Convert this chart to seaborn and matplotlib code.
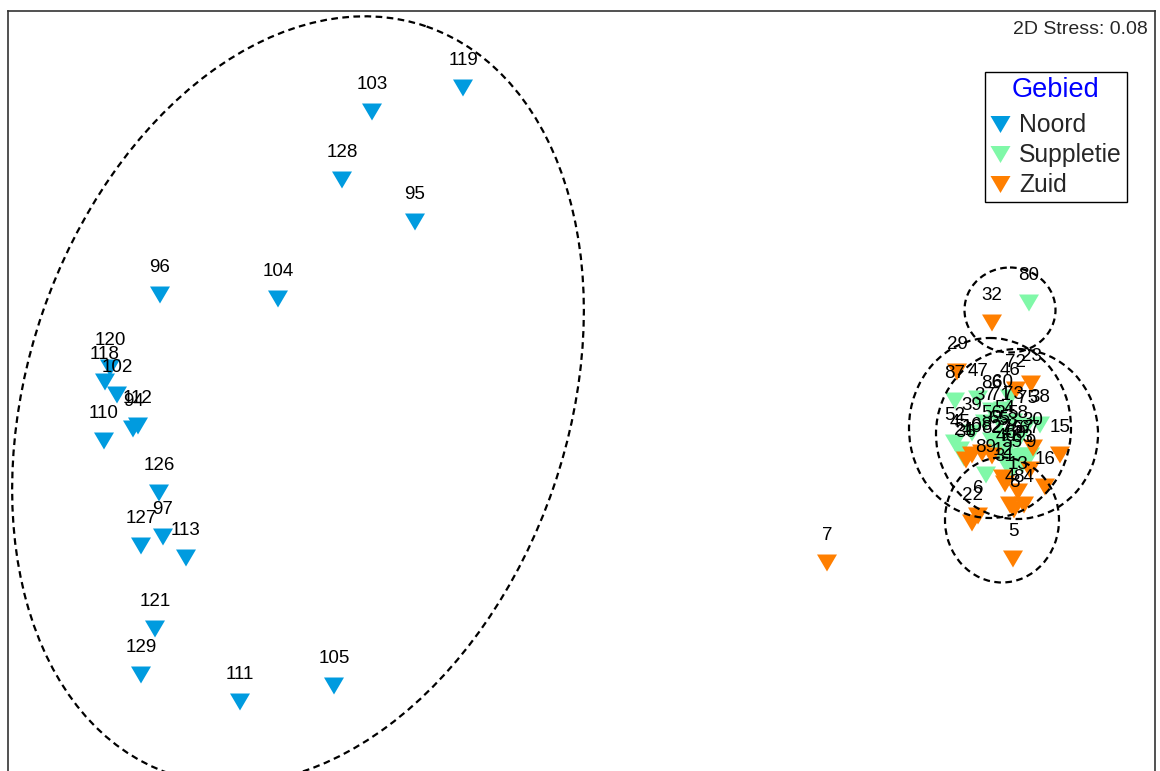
import numpy as np
import pandas as pd
import seaborn as sns
import matplotlib.pyplot as plt
from matplotlib.patches import Ellipse
from matplotlib.lines import Line2D

noord_lbl = ["119", "103", "128", "95", "96", "104", "120", "118", "102", "94", "112",
             "110", "126", "127", "97", "113", "121", "129", "111", "105"]
noord_x = [4.63, 3.72, 3.42, 4.15, 1.60, 2.78, 1.10, 1.05, 1.17, 1.33, 1.38,
           1.04, 1.59, 1.41, 1.63, 1.86, 1.55, 1.41, 2.40, 3.34]
noord_y = [0.88, 1.12, 1.80, 2.22, 2.95, 2.99, 3.68, 3.82, 3.95, 4.29, 4.26,
           4.41, 4.93, 5.46, 5.37, 5.58, 6.29, 6.75, 7.02, 6.86]

suppl_lbl = ["80", "87", "47", "46", "86", "60", "37", "39", "52", "71", "73", "75",
             "38", "54", "56", "65", "58", "53", "45", "21", "27", "26", "57", "67",
             "40", "59", "89", "55", "63"]
suppl_x = [10.29, 9.55, 9.78, 10.10, 9.92, 10.03, 9.85, 9.72, 9.55, 10.00, 10.13, 10.27,
           10.40, 10.05, 9.92, 10.00, 10.18, 10.08, 9.60, 9.64, 10.02, 10.11, 10.23, 10.30,
           10.06, 10.16, 9.86, 10.12, 10.22]
suppl_y = [3.03, 4.01, 3.99, 3.98, 4.11, 4.10, 4.23, 4.33, 4.43, 4.23, 4.22, 4.26,
           4.25, 4.36, 4.41, 4.46, 4.41, 4.48, 4.50, 4.58, 4.55, 4.57, 4.56, 4.56,
           4.64, 4.61, 4.75, 4.70, 4.65]

zuid_lbl = ["32", "29", "72", "23", "10", "68", "82", "30", "15", "31", "13", "16",
            "84", "8", "6", "22", "5", "7", "12", "4", "9", "36"]
zuid_x = [9.92, 9.57, 10.16, 10.31, 9.72, 9.82, 9.92, 10.33, 10.60, 10.05, 10.18, 10.45,
          10.24, 10.14, 9.78, 9.72, 10.13, 8.27, 10.03, 10.10, 10.30, 9.66]
zuid_y = [3.23, 3.72, 3.90, 3.84, 4.55, 4.53, 4.56, 4.48, 4.55, 4.84, 4.92, 4.87,
          5.05, 5.10, 5.16, 5.23, 5.59, 5.63, 4.78, 5.05, 4.70, 4.60]

# ellipsen rond de clusters
ell_cx = [2.98, 10.10, 9.90, 10.17, 10.02]
ell_cy = [4.00, 3.10, 4.28, 4.34, 5.20]
ell_w = [5.40, 0.91, 1.62, 1.62, 1.14]
ell_h = [7.90, 0.85, 1.80, 1.70, 1.25]
ell_ang = [19, 0, 0, 0, 0]

groups = ["Noord", "Suppletie", "Zuid"]
colors = ["#009BDF", "#80F8A8", "#FF7F00"]

df = pd.concat([
    pd.DataFrame({"label": noord_lbl, "x": noord_x, "y": noord_y, "Gebied": "Noord"}),
    pd.DataFrame({"label": suppl_lbl, "x": suppl_x, "y": suppl_y, "Gebied": "Suppletie"}),
    pd.DataFrame({"label": zuid_lbl, "x": zuid_x, "y": zuid_y, "Gebied": "Zuid"}),
], ignore_index=True)

sns.set_style("white")
plt.rcParams["font.family"] = ["Liberation Sans", "DejaVu Sans"]

tri = [(-1, 0.85), (1, 0.85), (0, -0.85)]

fig = plt.figure(figsize=(11.6, 7.71), dpi=100)
ax = fig.add_axes([8 / 1160, 0.0, 1147 / 1160, 1 - 11 / 771])

sns.scatterplot(data=df, x="x", y="y", hue="Gebied", hue_order=groups,
                palette=colors, marker=tri, s=207, linewidth=0,
                legend=False, ax=ax, zorder=3)

for _, r in df.iterrows():
    ax.annotate(r["label"], (r["x"], r["y"]), xytext=(0, 20), textcoords="offset points",
                ha="center", va="center", fontsize=13.5, color="black", zorder=4)

for cx, cy, w, h, a in zip(ell_cx, ell_cy, ell_w, ell_h, ell_ang):
    ax.add_patch(Ellipse((cx, cy), w, h, angle=a, fill=False, edgecolor="black",
                         linewidth=1.6, linestyle=(0, (3, 2)), zorder=5))

ax.set_xlim(0.08, 11.55)
ax.set_ylim(7.71, 0.11)
ax.set_xticks([])
ax.set_yticks([])
ax.set_xlabel("")
ax.set_ylabel("")
ax.spines["bottom"].set_visible(False)
for s in ["left", "top", "right"]:
    ax.spines[s].set_color("#333333")
    ax.spines[s].set_linewidth(1.2)

handles = [Line2D([], [], linestyle="none", marker=tri, markersize=14.4,
                  markerfacecolor=c, markeredgewidth=0) for c in colors]
leg = ax.legend(handles, groups, title="Gebied", loc="upper right",
                bbox_to_anchor=(1127 / 1160, 1 - 72 / 771), bbox_transform=fig.transFigure,
                borderaxespad=0, fontsize=17.8, title_fontsize=19.5, fancybox=False,
                frameon=True, handlelength=0.8, handletextpad=0.4, labelspacing=0.24,
                borderpad=0.2, framealpha=1)
leg._legend_box.sep = 7.5  # iets meer ruimte onder de titel
leg.get_title().set_color("#0000FF")
leg.get_frame().set_edgecolor("black")
leg.get_frame().set_linewidth(1.0)

fig.text(1148 / 1160, 1 - 30 / 771, "2D Stress: 0.08", ha="right", va="center", fontsize=14)

fig.savefig("out.png", dpi=100)
